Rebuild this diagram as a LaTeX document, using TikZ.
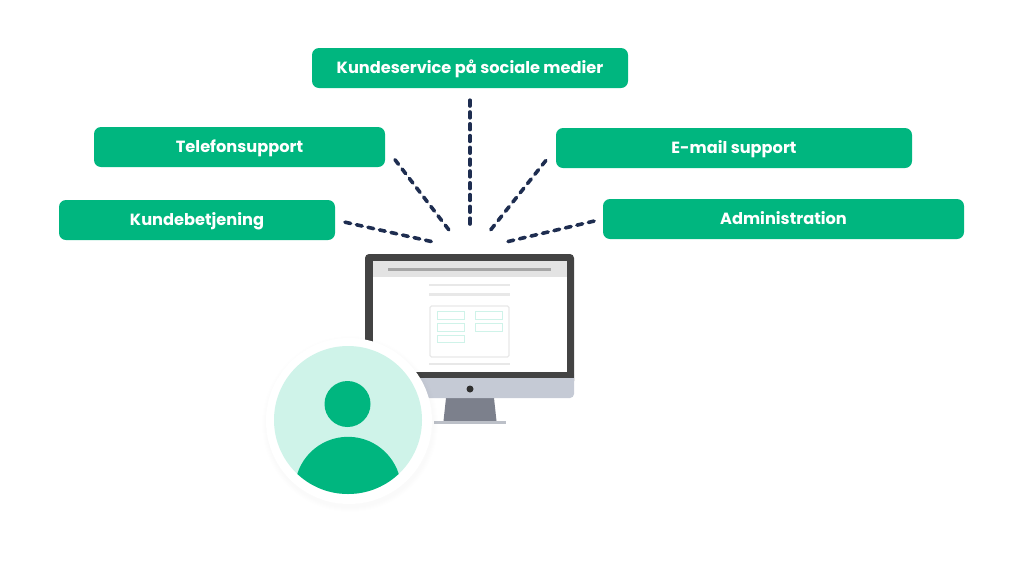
\documentclass[tikz,border=0pt]{standalone}
\usepackage{fontspec}
\setmainfont{Poppins}
\usetikzlibrary{positioning}
\definecolor{brandgreen}{HTML}{00B67F}
\definecolor{palegreen}{HTML}{CFF3E9}
\definecolor{linkblue}{HTML}{1E2D50}
\definecolor{framegray}{HTML}{434343}
\definecolor{chingray}{HTML}{C5CAD5}
\definecolor{standgray}{HTML}{7C808C}
\definecolor{basegray}{HTML}{BCC0C8}
\definecolor{headgray}{HTML}{E3E3E3}
\definecolor{rulegray}{HTML}{E8E8E8}
\tikzset{
  tagbox/.style={fill=brandgreen,rounded corners=7pt,text=white,inner sep=0pt,
    minimum height=40pt,text height=14pt,text depth=2.6pt,
    font=\fontsize{16.2}{18}\selectfont\bfseries},
  link/.style={draw=linkblue,line width=3.6pt,line cap=round,dash pattern=on 5.8pt off 6pt},
  pagerule/.style={draw=rulegray,line width=2.5pt},
  formcell/.style={draw=palegreen,line width=1pt,fill=white}
}

\begin{document}
\begin{tikzpicture}[x=1pt,y=-1pt]
\useasboundingbox (0,0) rectangle (1024,576);

% Place the five labels
\node[tagbox,minimum width=316pt] (social) at (470,68) {Kundeservice på sociale medier};
\node[tagbox,minimum width=291pt] (phone) at (239.5,147) {Telefonsupport};
\node[tagbox,minimum width=356pt] (mail) at (734,148) {E-mail support};
\node[tagbox,minimum width=276pt] (desk) at (197,220) {Kundebetjening};
\node[tagbox,minimum width=361pt] (admin) at (783.5,219) {Administration};

% Free ends above the screen
\coordinate (social-end) at (470,228.5);
\coordinate (phone-end) at (450.5,232);
\coordinate (mail-end) at (489,232);
\coordinate (desk-end) at (433.5,242);
\coordinate (admin-end) at (506,242);

% Draw dashed links
\draw[link,shorten <=12pt] (social.south) -- (social-end);
\draw[link,shorten <=16pt] (phone.east) -- (phone-end);
\draw[link,shorten <=16pt] (mail.west) -- (mail-end);
\draw[link,shorten <=10pt] (desk.east) -- (desk-end);
\draw[link,shorten <=9pt] (admin.west) -- (admin-end);

% Draw monitor stand
\fill[standgray] (446,398) -- (494,398) -- (496.5,421) -- (443.5,421) -- cycle;
\fill[basegray] (434,420.5) rectangle (505.5,424);

% Draw monitor body
\fill[framegray,rounded corners=4pt] (365,254) -- (574,254) -- (574,385) -- (365,385) -- cycle;
\fill[chingray,rounded corners=4pt] (365,370) rectangle (574,398);
\fill[framegray] (365,366) rectangle (574,378);
\fill[white] (373,261) rectangle (567,372);
\fill[headgray] (373,261) rectangle (567,277);
\draw[draw=black!35,line width=3pt] (388,269) -- (551,269);
\fill[framegray!70!black] (470,389) circle (3.5pt);

% Draw page on the screen
\draw[pagerule] (429,285) -- (510,285);
\draw[pagerule] (429,294.5) -- (510,294.5);
\draw[pagerule] (429,364) -- (510,364);
\draw[rulegray,line width=1.2pt,rounded corners=1.5pt] (430,306) rectangle (509,357);
\draw[formcell] (437,311.5) rectangle (464.5,319.5);
\draw[formcell] (475,311.5) rectangle (502.5,319.5);
\draw[formcell] (437,323.5) rectangle (464.5,331);
\draw[formcell] (475,323.5) rectangle (502.5,331);
\draw[formcell] (437,335) rectangle (464.5,342.5);

% Draw avatar with soft shadow
\coordinate (face) at (348,420);
\foreach \r in {88,87,86,85,84}
  \fill[black,opacity=0.005] (350,424) circle (\r pt);
\fill[white] (349,421) circle (83pt);
\fill[palegreen] (face) circle (74pt);
\fill[brandgreen] (347.5,404) circle (23pt);
\begin{scope}
  \clip (face) circle (74pt);
  \fill[brandgreen] (348,490) circle (53.2pt);
\end{scope}

\end{tikzpicture}
\end{document}
